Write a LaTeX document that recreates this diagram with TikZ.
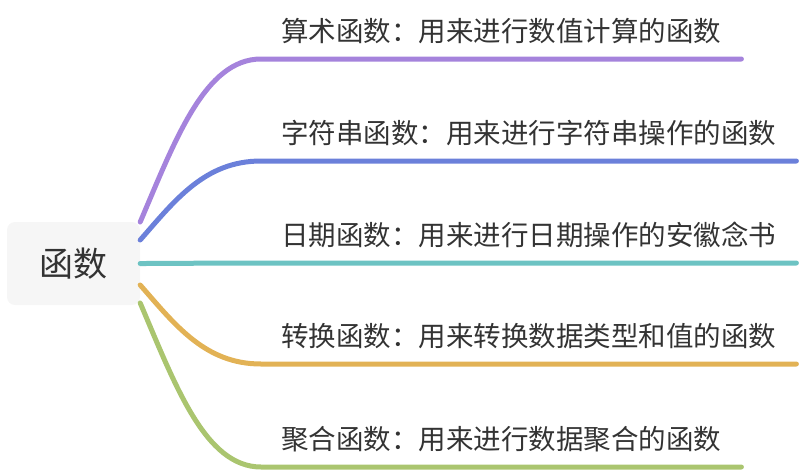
\documentclass[tikz,border=0pt]{standalone}
\usepackage{fontspec}
\newfontfamily\cjk{Noto Sans CJK SC}
\usepackage{xcolor}
\definecolor{mapPurple}{HTML}{A583DC}
\definecolor{mapBlue}{HTML}{6B80DA}
\definecolor{mapTeal}{HTML}{6DC3C3}
\definecolor{mapGold}{HTML}{E2B255}
\definecolor{mapGreen}{HTML}{AAC56F}
\definecolor{mapInk}{HTML}{333333}
\definecolor{mapRootFill}{HTML}{F6F6F6}
\usepackage{tikz}

\begin{document}
\begin{tikzpicture}[x=1pt, y=-1pt,
  rootbox/.style={fill=mapRootFill, rounded corners=8pt, minimum width=133pt, minimum height=83pt,
    font=\cjk\fontsize{34}{40}\selectfont, text=mapInk},
  leaf/.style={anchor=south west, inner xsep=20pt, inner ysep=0pt, text height=24pt, text depth=17pt,
    font=\cjk\fontsize{27.5}{33}\selectfont, text=mapInk},
  branch/.style={line width=5pt, line cap=round}]
  \useasboundingbox (0,0) rectangle (804,472);
  % ------- root -------
  \node[rootbox] (root) at (73.5,263.5) {函数};
  % ------- leaves, each one sits on its own underline -------
  \foreach \i/\y/\txt in {1/59/算术函数：用来进行数值计算的函数,
                          2/161/字符串函数：用来进行字符串操作的函数,
                          3/263/日期函数：用来进行日期操作的安徽念书,
                          4/364/转换函数：用来转换数据类型和值的函数,
                          5/467/聚合函数：用来进行数据聚合的函数} {
    \node[leaf] (leaf\i) at (261,\y) {\txt};
  }
  % ------- branches -------
  \foreach \i/\dy/\c/\col in {1/41.5/-82/mapPurple, 2/23.5/-40/mapBlue, 3/0/0/mapTeal,
                              4/-21.5/40/mapGold, 5/-39.5/82/mapGreen} {
    \coordinate (out\i) at ([yshift=\dy pt]root.east);
    \draw[branch, \col] (out\i) .. controls +(35,\c) and +(-56,0) .. (leaf\i.south west) -- (leaf\i.south east);
  }
\end{tikzpicture}
\end{document}
